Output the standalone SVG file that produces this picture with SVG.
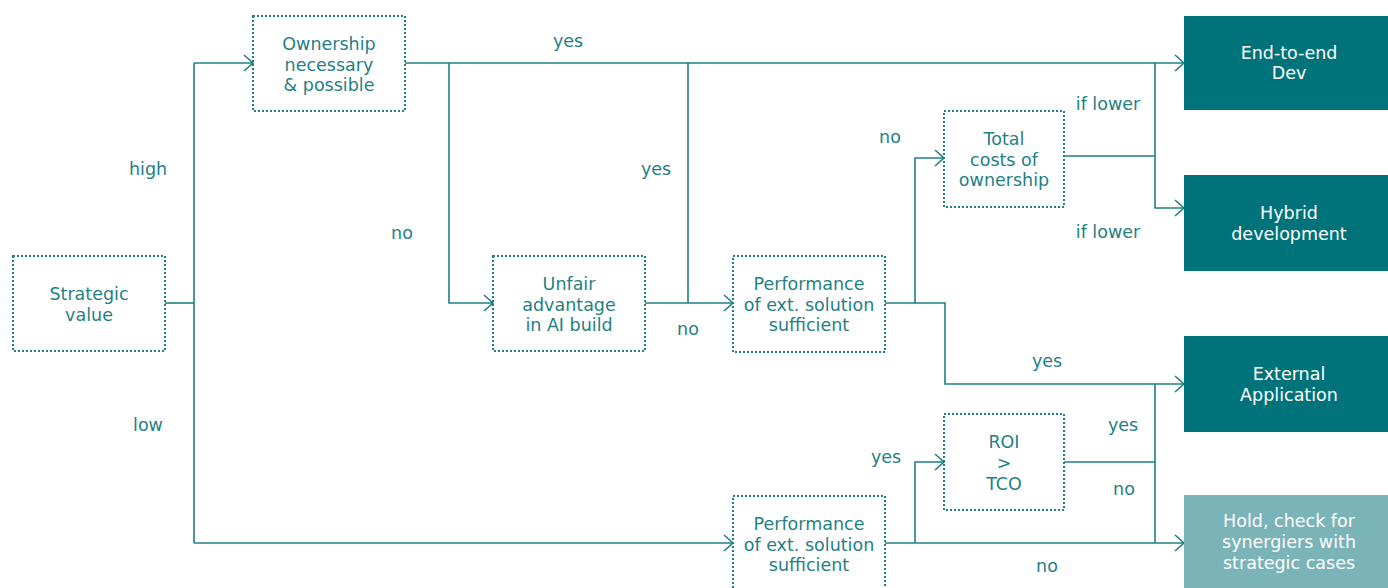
<svg xmlns="http://www.w3.org/2000/svg" width="1388" height="588" viewBox="0 0 1388 588">
<defs>
<marker id="arr" markerWidth="12" markerHeight="18" refX="10" refY="9" orient="auto" markerUnits="userSpaceOnUse">
<path d="M1,1 L10,9 L1,17" fill="none" stroke="#1f7f85" stroke-width="1.6"/>
</marker>
<style>
.q{fill:none;stroke:#1f7f85;stroke-width:2;stroke-dasharray:2 2}
.c{fill:none;stroke:#1f7f85;stroke-width:1.6}
.t{font-family:"DejaVu Sans","Noto Sans",sans-serif;font-size:17.5px;fill:#1f7f85;text-anchor:middle}
.w{font-family:"DejaVu Sans","Noto Sans",sans-serif;font-size:17.5px;fill:#ffffff;text-anchor:middle}
.d{fill:#00737a}
.l{fill:#7ab3b8}
</style>
</defs>
<rect width="1388" height="588" fill="#ffffff"/>
<g id="connectors">
<path class="c" d="M165,303 H194"/>
<path class="c" d="M194,63 V543"/>
<path class="c" d="M194,63 H253" marker-end="url(#arr)"/>
<path class="c" d="M194,543 H733" marker-end="url(#arr)"/>
<path class="c" d="M405,63 H1184" marker-end="url(#arr)"/>
<path class="c" d="M449,63 V303 H493" marker-end="url(#arr)"/>
<path class="c" d="M645,303 H733" marker-end="url(#arr)"/>
<path class="c" d="M688,63 V303"/>
<path class="c" d="M885,303 H915 V158 H944" marker-end="url(#arr)"/>
<path class="c" d="M915,303 H945 V384 H1184" marker-end="url(#arr)"/>
<path class="c" d="M1064,156 H1155"/>
<path class="c" d="M1155,63 V208 H1184" marker-end="url(#arr)"/>
<path class="c" d="M1064,462 H1155"/>
<path class="c" d="M1155,384 V543"/>
<path class="c" d="M885,543 H1184" marker-end="url(#arr)"/>
<path class="c" d="M915,543 V462 H944" marker-end="url(#arr)"/>
<text class="t" x="148" y="175">high</text>
<text class="t" x="148" y="431">low</text>
<text class="t" x="568" y="47">yes</text>
<text class="t" x="402" y="239">no</text>
<text class="t" x="656" y="175">yes</text>
<text class="t" x="688" y="335">no</text>
<text class="t" x="890" y="143">no</text>
<text class="t" x="1108" y="110">if lower</text>
<text class="t" x="1108" y="238">if lower</text>
<text class="t" x="1047" y="367">yes</text>
<text class="t" x="1123" y="431">yes</text>
<text class="t" x="886" y="463">yes</text>
<text class="t" x="1124" y="495">no</text>
<text class="t" x="1047" y="572">no</text>
</g>
<g id="strategic-value">
<rect class="q" x="13" y="256" width="152" height="95"/>
<text class="t" x="89" y="300">Strategic</text>
<text class="t" x="89" y="321">value</text>
</g>
<g id="ownership">
<rect class="q" x="253" y="16" width="152" height="95"/>
<text class="t" x="329" y="50">Ownership</text>
<text class="t" x="329" y="71">necessary</text>
<text class="t" x="329" y="91">&amp; possible</text>
</g>
<g id="unfair-advantage">
<rect class="q" x="493" y="256" width="152" height="95"/>
<text class="t" x="569" y="290">Unfair</text>
<text class="t" x="569" y="311">advantage</text>
<text class="t" x="569" y="331">in AI build</text>
</g>
<g id="performance-1">
<rect class="q" x="733" y="256" width="152" height="96"/>
<text class="t" x="809" y="290">Performance</text>
<text class="t" x="809" y="311">of ext. solution</text>
<text class="t" x="809" y="331">sufficient</text>
</g>
<g id="total-costs">
<rect class="q" x="944" y="111" width="120" height="96"/>
<text class="t" x="1004" y="145">Total</text>
<text class="t" x="1004" y="166">costs of</text>
<text class="t" x="1004" y="186">ownership</text>
</g>
<g id="roi">
<rect class="q" x="944" y="414" width="120" height="96"/>
<text class="t" x="1004" y="448">ROI</text>
<text class="t" x="1004" y="469" font-size="12">&gt;</text>
<text class="t" x="1004" y="490">TCO</text>
</g>
<g id="performance-2">
<rect class="q" x="733" y="496" width="152" height="96"/>
<text class="t" x="809" y="530">Performance</text>
<text class="t" x="809" y="551">of ext. solution</text>
<text class="t" x="809" y="571">sufficient</text>
</g>
<g id="end-to-end">
<rect class="d" x="1184" y="16" width="204" height="94"/>
<text class="w" x="1289" y="59">End-to-end</text>
<text class="w" x="1289" y="79">Dev</text>
</g>
<g id="hybrid">
<rect class="d" x="1184" y="175" width="204" height="96"/>
<text class="w" x="1289" y="219">Hybrid</text>
<text class="w" x="1289" y="240">development</text>
</g>
<g id="external">
<rect class="d" x="1184" y="336" width="204" height="96"/>
<text class="w" x="1289" y="380">External</text>
<text class="w" x="1289" y="401">Application</text>
</g>
<g id="hold">
<rect class="l" x="1184" y="495" width="204" height="93"/>
<text class="w" x="1289" y="527">Hold, check for</text>
<text class="w" x="1289" y="548">synergiers with</text>
<text class="w" x="1289" y="569">strategic cases</text>
</g>
</svg>
